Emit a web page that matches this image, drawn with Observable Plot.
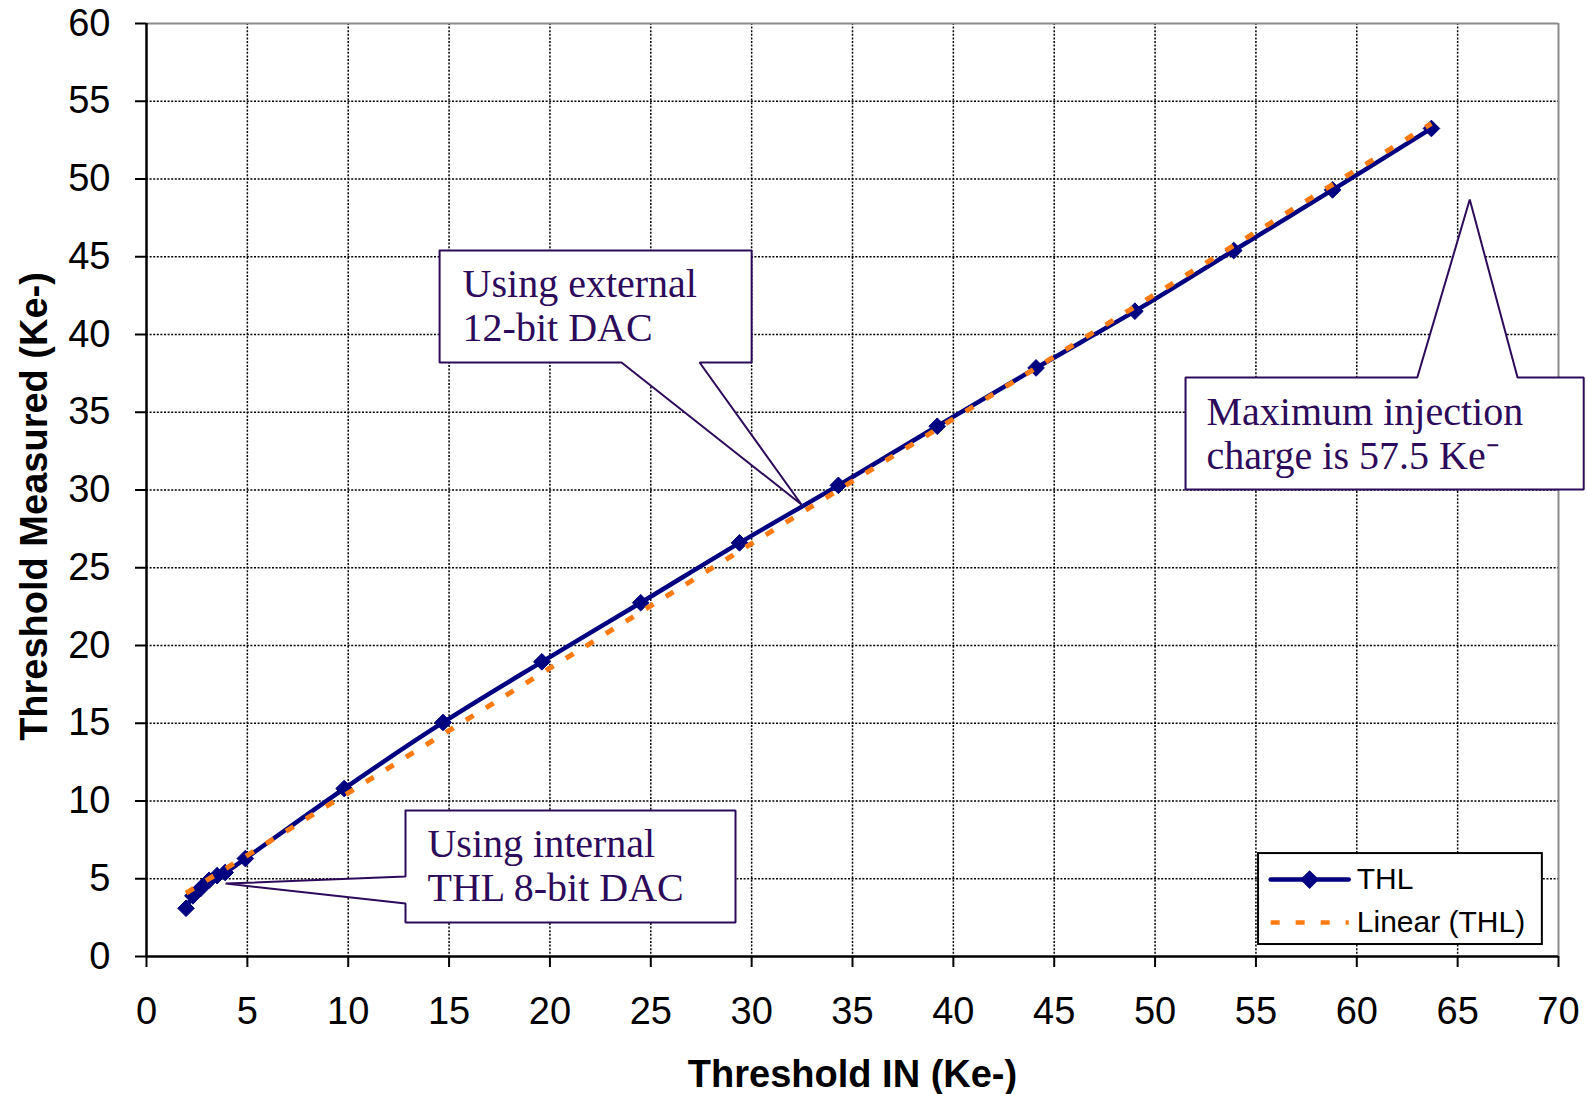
<!DOCTYPE html>
<html><head><meta charset="utf-8">
<script src="https://cdn.jsdelivr.net/npm/d3@7"></script>
<script src="https://cdn.jsdelivr.net/npm/@observablehq/plot@0.6"></script>
<style>html,body{margin:0;padding:0;background:#fff}#chart svg{display:block}</style>
</head><body><div id="chart"></div>
<script>
// ---- data ----
const thresholdIn = [1.96, 2.3, 2.7, 3.1, 3.5, 3.9, 4.9, 9.8, 14.7, 19.6, 24.5, 29.4, 34.3, 39.2, 44.1, 49.0, 53.9, 58.8, 63.7];
const thresholdMeasured = [3.1, 3.9, 4.4, 4.9, 5.2, 5.4, 6.3, 10.8, 15.05, 18.95, 22.75, 26.6, 30.3, 34.1, 37.85, 41.5, 45.4, 49.3, 53.25];
const xTicks = [0, 5, 10, 15, 20, 25, 30, 35, 40, 45, 50, 55, 60, 65, 70];
const yTicks = [0, 5, 10, 15, 20, 25, 30, 35, 40, 45, 50, 55, 60];
const seriesNames = ["THL", "Linear (THL)"];
const xTitle = "Threshold IN (Ke-)";
const yTitle = "Threshold Measured (Ke-)";
const calloutTexts = ["Using external\n12-bit DAC", "Maximum injection\ncharge is 57.5 Ke\u207B", "Using internal\nTHL 8-bit DAC"];

// ---- styling / layout ----
const NAVY = "#000080", ORANGE = "#ff7b12", PURPLE = "#2d0a5a";
const thl = thresholdIn.map((x, i) => ({x, y: thresholdMeasured[i]}));

// callout geometry in data units: [left, right, bottom, top], wedge, text anchor
const calloutLayout = [
  {box: [14.53, 30.0, 38.2, 45.4], side: "bottom", a: 23.55, b: 27.42, tip: [32.47, 29.07], tx: 15.67, ty: 39.61},
  {box: [51.51, 71.25, 30.03, 37.23], side: "top", a: 63.0, b: 67.97, tip: [65.6, 48.68], tx: 52.55, ty: 31.38},
  {box: [12.84, 29.2, 2.19, 9.39], side: "left", a: 3.41, b: 5.14, tip: [3.92, 4.69], tx: 13.93, ty: 3.6}
];
const calloutPts = [];
calloutLayout.forEach((c, id) => {
  const [l, r, b, t] = c.box;
  let pts;
  if (c.side === "bottom") pts = [[l,t],[r,t],[r,b],[c.b,b],c.tip,[c.a,b],[l,b],[l,t]];
  else if (c.side === "top") pts = [[l,b],[l,t],[c.a,t],c.tip,[c.b,t],[r,t],[r,b],[l,b]];
  else pts = [[l,t],[r,t],[r,b],[l,b],[l,c.a],c.tip,[l,c.b],[l,t]];
  pts.forEach(p => calloutPts.push({id, x: p[0], y: p[1]}));
});
const calloutLabels = calloutLayout.map((c, i) => ({x: c.tx, y: c.ty, text: calloutTexts[i]}));

// legend placement (data units)
const legBox = [{x1: 55.13, x2: 69.2, y1: 0.77, y2: 6.62}];
const legRows = [{y: 4.95}, {y: 2.19}];
const legX1 = 55.73, legX2 = 59.6, legXm = 57.66, legTx = 60.0;

const gridX = xTicks.filter(v => v > 0 && v < 70);
const gridY = yTicks.filter(v => v > 0 && v < 60);

const chart = Plot.plot({
  width: 1587, height: 1094,
  marginLeft: 146, marginRight: 29, marginTop: 23, marginBottom: 138,
  x: {domain: [0, 70]},
  y: {domain: [0, 60]},
  style: {fontFamily: "'Liberation Sans', Arial, sans-serif", fontSize: "38px", color: "#000", background: "#fff"},
  marks: [
    Plot.ruleX(gridX, {stroke: "#000", strokeWidth: 1.5, strokeDasharray: "2,1.6"}),
    Plot.ruleY(gridY, {stroke: "#000", strokeWidth: 1.5, strokeDasharray: "2,1.6"}),
    Plot.ruleX([70], {stroke: "#8c8c8c", strokeWidth: 2}),
    Plot.ruleY([60], {stroke: "#8c8c8c", strokeWidth: 2}),
    Plot.axisX(xTicks, {tickSize: 11, tickPadding: 30, strokeWidth: 2, fontSize: 38, label: null}),
    Plot.axisY(yTicks, {tickSize: 11, tickPadding: 25, strokeWidth: 2, fontSize: 38, label: null}),
    Plot.ruleX([0], {stroke: "#000", strokeWidth: 2.5}),
    Plot.ruleY([0], {stroke: "#000", strokeWidth: 2.5}),
    // callouts
    Plot.line(calloutPts, {x: "x", y: "y", z: "id", fill: "#fff", stroke: PURPLE, strokeWidth: 2, curve: "linear", strokeLinejoin: "miter"}),
    Plot.text(calloutLabels, {x: "x", y: "y", text: "text", textAnchor: "start", lineAnchor: "bottom", lineHeight: 1.1,
      fontSize: 40, fontFamily: "'Liberation Serif', 'Times New Roman', serif", fill: PURPLE}),
    // data
    Plot.line(thl, {x: "x", y: "y", stroke: NAVY, strokeWidth: 4.5, curve: "catmull-rom"}),
    Plot.dot(thl, {x: "x", y: "y", symbol: "diamond2", r: 7.5, fill: NAVY, stroke: NAVY, strokeWidth: 1}),
    Plot.linearRegressionY(thl, {x: "x", y: "y", ci: 0, stroke: ORANGE, strokeWidth: 5, strokeDasharray: "9,14.5", strokeLinecap: "butt"}),
    // legend
    Plot.rect(legBox, {x1: "x1", x2: "x2", y1: "y1", y2: "y2", fill: "#fff", stroke: "#000", strokeWidth: 2}),
    Plot.line([[legX1, legRows[0].y], [legX2, legRows[0].y]], {stroke: NAVY, strokeWidth: 4.5}),
    Plot.dot([[legXm, legRows[0].y]], {symbol: "diamond2", r: 7.5, fill: NAVY, stroke: NAVY}),
    Plot.line([[legX1, legRows[1].y], [legX2, legRows[1].y]], {stroke: ORANGE, strokeWidth: 4.5, strokeDasharray: "9,16", strokeLinecap: "butt"}),
    Plot.text(seriesNames, {x: legTx, y: (d, i) => legRows[i].y, text: d => d, textAnchor: "start", fontSize: 30, fill: "#000"}),
    // axis titles
    Plot.text([xTitle], {frameAnchor: "bottom", lineAnchor: "bottom", textAnchor: "middle", dy: 130, text: d => d, fontWeight: "bold", fontSize: 38, fill: "#000"}),
    Plot.text([yTitle], {frameAnchor: "left", textAnchor: "middle", lineAnchor: "middle", dx: -111.5, dy: 16.5, rotate: -90, text: d => d, fontWeight: "bold", fontSize: 38, fill: "#000"})
  ]
});
document.getElementById("chart").appendChild(chart);
</script>
</body></html>
